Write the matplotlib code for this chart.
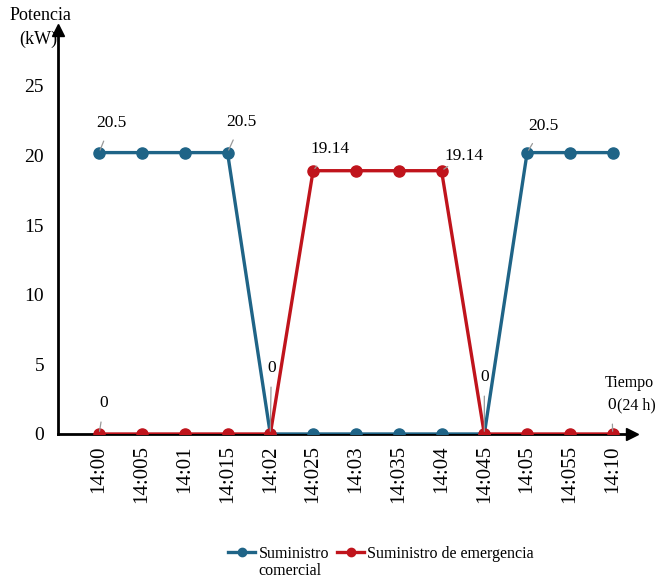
import matplotlib.pyplot as plt
from matplotlib.lines import Line2D

plt.rcParams['font.family'] = ['Liberation Serif', 'DejaVu Serif']

# datos
horas = ['14:00', '14:005', '14:01', '14:015', '14:02', '14:025', '14:03',
         '14:035', '14:04', '14:045', '14:05', '14:055', '14:10']
comercial = [20.2, 20.2, 20.2, 20.2, 0, 0, 0, 0, 0, 0, 20.2, 20.2, 20.2]
emergencia = [0, 0, 0, 0, 0, 18.9, 18.9, 18.9, 18.9, 0, 0, 0, 0]

# etiquetas de datos: (indice, serie, texto, desplazamiento en pixeles)
etiquetas = [
    (0, 'c', '20.5', (12, 30)),
    (3, 'c', '20.5', (14, 31)),
    (5, 'e', '19.14', (17, 22)),
    (8, 'e', '19.14', (22, 15)),
    (10, 'c', '20.5', (16, 27)),
    (0, 'e', '0', (5, 31)),
    (4, 'e', '0', (1, 66)),
    (9, 'e', '0', (0, 57)),
    (12, 'e', '0', (-1, 29)),
]

azul = '#1f6487'
rojo = '#c0141c'

fig = plt.figure(figsize=(6.56, 5.83), dpi=100)
ax = fig.add_axes([58/656, 1-434/583, (632-58)/656, (434-30)/583])

x = list(range(len(horas)))
ax.plot(x, comercial, color=azul, lw=2.4, marker='o', ms=8, zorder=3)
ax.plot(x, emergencia, color=rojo, lw=2.4, marker='o', ms=8, zorder=3)

series = {'c': comercial, 'e': emergencia}
for i, s, txt, off in etiquetas:
    ax.annotate(txt, (i, series[s][i]), xytext=off, textcoords='offset pixels',
                ha='center', va='center', fontsize=12.5,
                arrowprops=dict(arrowstyle='-', color='#999999', lw=0.9,
                                shrinkA=6, shrinkB=2))

ax.set_xlim(-0.96, 12.45)
ax.set_ylim(0, 29)
ax.set_yticks([0, 5, 10, 15, 20, 25])
ax.set_xticks(x)
ax.set_xticklabels(horas, rotation=90, fontsize=15)
ax.tick_params(axis='y', length=0, pad=10, labelsize=14)
ax.tick_params(axis='x', length=0, pad=8)

for sp in ['top', 'right']:
    ax.spines[sp].set_visible(False)
for sp in ['left', 'bottom']:
    ax.spines[sp].set_linewidth(2)

# flechas de los ejes
ax.plot(1, 0, marker='>', color='black', ms=8, transform=ax.transAxes, clip_on=False)
ax.plot(0, 1, marker='^', color='black', ms=8, transform=ax.transAxes, clip_on=False)

fig.text(40/656, 1-16/583, 'Potencia', ha='center', va='center', fontsize=13)
fig.text(38/656, 1-39/583, '(kW)', ha='center', va='center', fontsize=13)
fig.text(654/656, 1-383/583, 'Tiempo', ha='right', va='center', fontsize=11.5)
fig.text(617/656, 1-405/583, '(24 h)', ha='left', va='center', fontsize=11.5)

handles = [Line2D([], [], color=azul, lw=2.4, marker='o', ms=6),
           Line2D([], [], color=rojo, lw=2.4, marker='o', ms=6)]
leg = fig.legend(handles, ['Suministro', 'Suministro de emergencia'],
                 loc='center', bbox_to_anchor=(381/656, 1-554/583), ncol=2,
                 frameon=False, fontsize=11.5, handlelength=1.7,
                 handletextpad=0.2, columnspacing=0.5)

# segunda linea de la primera etiqueta
fig.canvas.draw()
bb = leg.get_texts()[0].get_window_extent().transformed(fig.transFigure.inverted())
fig.text(bb.x0, bb.y0 - 0.002, 'comercial', ha='left', va='top', fontsize=11.5)

fig.savefig('out.png', dpi=100)
